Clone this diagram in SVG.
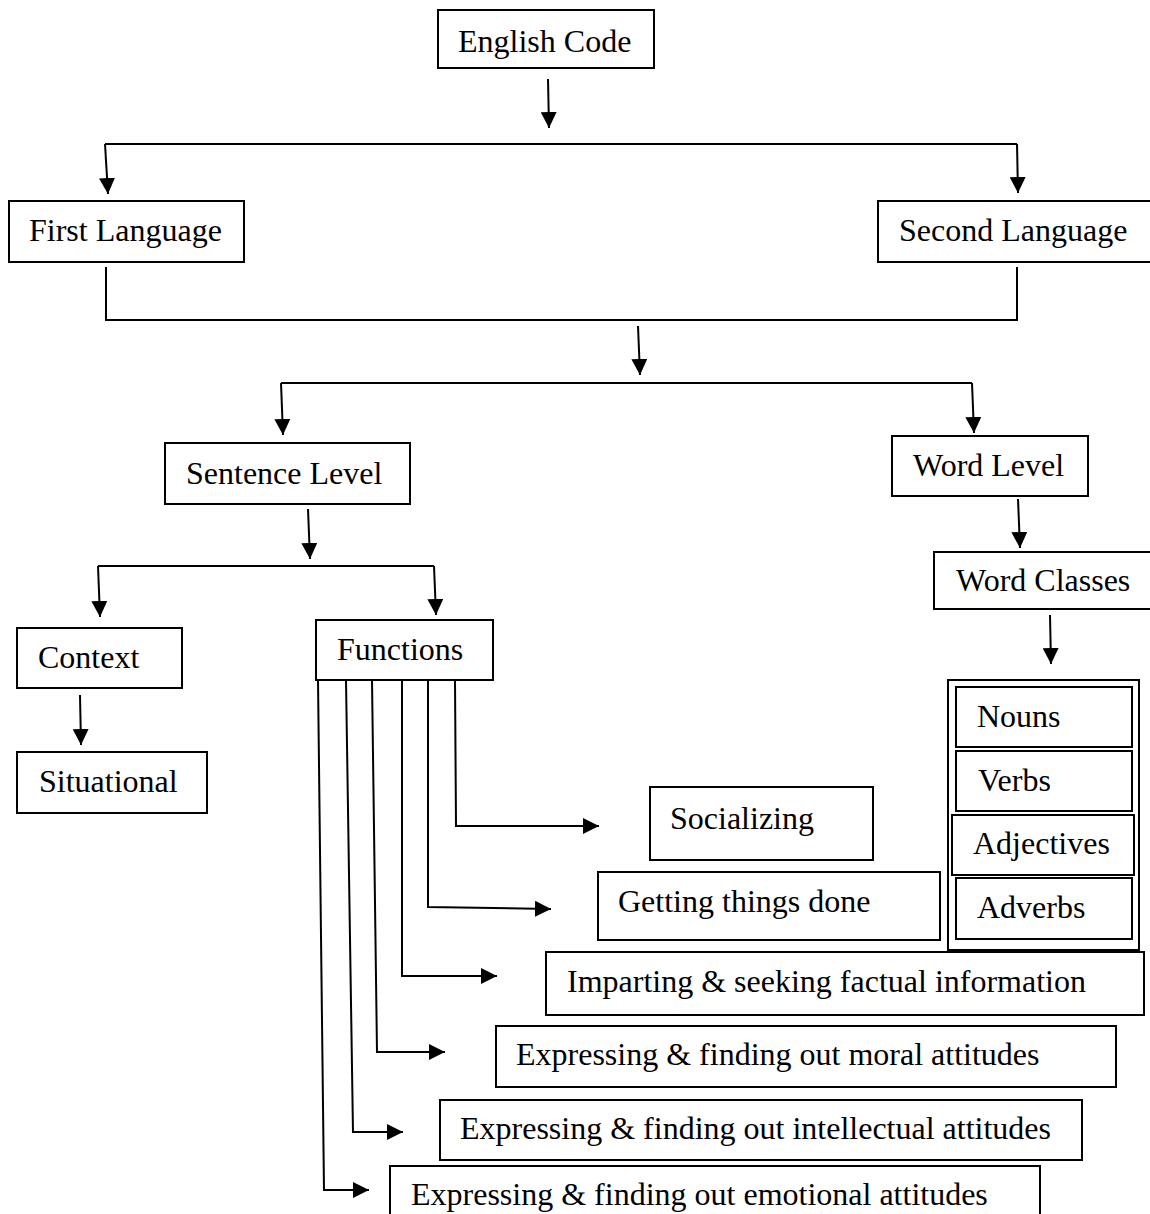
<svg xmlns="http://www.w3.org/2000/svg" width="1150" height="1214" viewBox="0 0 1150 1214">
<style>
.b{fill:#fff;stroke:#000;stroke-width:2}
.t{font-family:"Liberation Serif","Times New Roman",serif;font-size:32px;fill:#000}
.c{fill:none;stroke:#000;stroke-width:2}
.a{marker-end:url(#ah)}
</style>
<defs>
<marker id="ah" markerUnits="userSpaceOnUse" markerWidth="16" markerHeight="16" refX="15" refY="7.5" orient="auto" viewBox="0 0 15 15">
<path d="M0,0 L15,7.5 L0,15 z" fill="#000"/>
</marker>
</defs>
<rect width="1150" height="1214" fill="#fff"/>
<g id="connectors">
<path class="c a" d="M548,79 L549,128"/>
<path class="c" d="M105,144 L1017,144"/>
<path class="c a" d="M105,144 L108,194"/>
<path class="c a" d="M1017,144 L1018,193"/>
<path class="c" d="M106,267 L106,320 L1017,320 L1017,267"/>
<path class="c a" d="M638,326 L640,375"/>
<path class="c" d="M281,383 L972,383"/>
<path class="c a" d="M281,383 L283,435"/>
<path class="c a" d="M972,383 L974,433"/>
<path class="c a" d="M308,509 L310,559"/>
<path class="c" d="M98,566 L434,566"/>
<path class="c a" d="M98,566 L100,617"/>
<path class="c a" d="M434,566 L436,615"/>
<path class="c a" d="M80,695 L81,745"/>
<path class="c a" d="M1018,499 L1020,548"/>
<path class="c a" d="M1050,615 L1051,664"/>
<path class="c a" d="M455,680 L456,826 L599,826"/>
<path class="c a" d="M428,680 L428,907 L551,909"/>
<path class="c a" d="M402,680 L402,976 L497,976"/>
<path class="c a" d="M372,680 L377,1052 L445,1052"/>
<path class="c a" d="M346,680 L353,1132 L403,1132"/>
<path class="c a" d="M318,680 L324,1190 L369,1190"/>
</g>
<g id="english-code"><rect class="b" x="438" y="10" width="216" height="58"/><text class="t" x="458" y="52">English Code</text></g>
<g id="first-language"><rect class="b" x="9" y="201" width="235" height="61"/><text class="t" x="29" y="241">First Language</text></g>
<g id="second-language"><rect class="b" x="878" y="201" width="290" height="61"/><text class="t" x="899" y="241">Second Language</text></g>
<g id="sentence-level"><rect class="b" x="165" y="443" width="245" height="61"/><text class="t" x="186" y="484">Sentence Level</text></g>
<g id="word-level"><rect class="b" x="892" y="436" width="196" height="60"/><text class="t" x="913" y="476">Word Level</text></g>
<g id="word-classes"><rect class="b" x="934" y="552" width="230" height="57"/><text class="t" x="956" y="591">Word Classes</text></g>
<g id="context"><rect class="b" x="17" y="628" width="165" height="60"/><text class="t" x="38" y="668">Context</text></g>
<g id="functions"><rect class="b" x="316" y="620" width="177" height="60"/><text class="t" x="337" y="660">Functions</text></g>
<g id="situational"><rect class="b" x="17" y="752" width="190" height="61"/><text class="t" x="39" y="792">Situational</text></g>
<g id="word-class-list">
<rect class="b" x="948" y="680" width="191" height="270"/>
<g id="nouns"><rect class="b" x="956" y="687" width="176" height="60"/><text class="t" x="977" y="727">Nouns</text></g>
<g id="verbs"><rect class="b" x="956" y="751" width="176" height="60"/><text class="t" x="978" y="791">Verbs</text></g>
<g id="adjectives"><rect class="b" x="952" y="815" width="182" height="60"/><text class="t" x="973" y="854">Adjectives</text></g>
<g id="adverbs"><rect class="b" x="956" y="878" width="176" height="61"/><text class="t" x="977" y="918">Adverbs</text></g>
</g>
<g id="socializing"><rect class="b" x="650" y="787" width="223" height="73"/><text class="t" x="670" y="829">Socializing</text></g>
<g id="getting-things-done"><rect class="b" x="598" y="872" width="342" height="68"/><text class="t" x="618" y="912">Getting things done</text></g>
<g id="imparting"><rect class="b" x="546" y="952" width="598" height="63"/><text class="t" x="567" y="992">Imparting &amp; seeking factual information</text></g>
<g id="moral"><rect class="b" x="496" y="1026" width="620" height="61"/><text class="t" x="516" y="1065">Expressing &amp; finding out moral attitudes</text></g>
<g id="intellectual"><rect class="b" x="440" y="1100" width="642" height="60"/><text class="t" x="460" y="1139">Expressing &amp; finding out intellectual attitudes</text></g>
<g id="emotional"><rect class="b" x="390" y="1166" width="650" height="70"/><text class="t" x="411" y="1205">Expressing &amp; finding out emotional attitudes</text></g>
</svg>
